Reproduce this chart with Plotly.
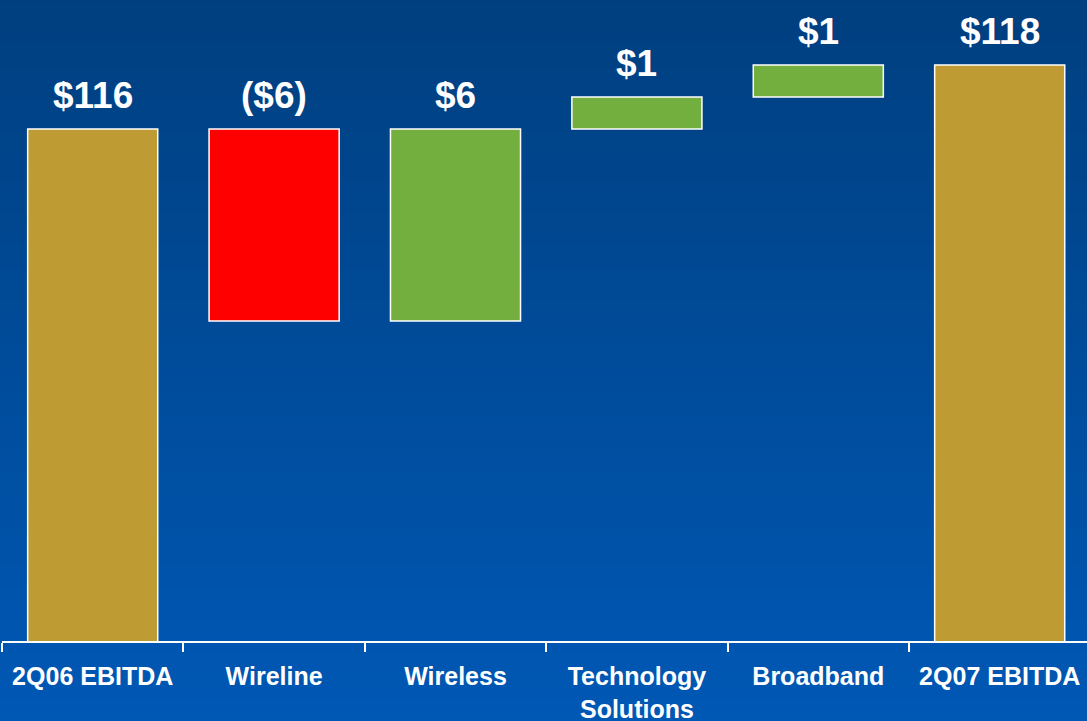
import plotly.graph_objects as go

# EBITDA bridge, $ millions
categories = ["2Q06 EBITDA", "Wireline", "Wireless", "Technology<br>Solutions", "Broadband", "2Q07 EBITDA"]
changes = [116, -6, 6, 1, 1, 118]
kinds = ["total", "change", "change", "change", "change", "total"]
value_labels = ["$116", "($6)", "$6", "$1", "$1", "$118"]

GOLD = "#BF9B33"
GREEN = "#72AF3F"
RED = "#FF0000"
LABEL_GAP = 34  # px between bar top and value label centre

# floating bar geometry from the running total
bases, heights, colors, tops = [], [], [], []
running = 0
for kind, v in zip(kinds, changes):
    if kind == "total":
        bases.append(0)
        heights.append(v)
        colors.append(GOLD)
        running = v
        tops.append(v)
    else:
        start = running
        running = running + v
        bases.append(min(start, running))
        heights.append(abs(v))
        colors.append(GREEN if v > 0 else RED)
        tops.append(max(start, running))

fig = go.Figure(go.Bar(
    x=categories, y=heights, base=bases,
    marker=dict(color=colors, line=dict(color="white", width=1.5)),
    width=0.717, hoverinfo="skip",
))

for cat, t, lab in zip(categories, tops, value_labels):
    fig.add_annotation(x=cat, y=t, text=f"<b>{lab}</b>", showarrow=False,
                       yanchor="middle", yshift=LABEL_GAP,
                       font=dict(family="Liberation Sans, Arial", size=37, color="white"))

# vertical blue gradient background built from thin bands
top_rgb = (0, 63, 127)
bot_rgb = (0, 88, 181)
n = 90
y_lo, y_hi = -0.13, 1.01
for k in range(n):
    f = k / (n - 1)
    c = tuple(round(top_rgb[j] + (bot_rgb[j] - top_rgb[j]) * f) for j in range(3))
    y1 = y_hi - (y_hi - y_lo) * k / n
    y0 = y_hi - (y_hi - y_lo) * (k + 1) / n
    fig.add_shape(type="rect", xref="paper", yref="paper", x0=-0.01, x1=1.01,
                  y0=y0 - 0.001, y1=y1 + 0.001, layer="below",
                  line=dict(width=0), fillcolor=f"rgb{c}")

fig.update_layout(
    width=1087, height=721,
    margin=dict(l=2, r=0, t=1, b=80, autoexpand=False),
    paper_bgcolor="rgb(0,75,154)", plot_bgcolor="rgba(0,0,0,0)",
    showlegend=False,
    xaxis=dict(
        type="category", automargin=False,
        tickmode="array", tickvals=categories, ticktext=[f"<b>{c}</b>" for c in categories],
        range=[-0.5, -0.5 + 1085 / 181.4],
        showgrid=False, zeroline=False,
        showline=True, linecolor="white", linewidth=2,
        ticks="outside", tickson="boundaries", ticklen=9, tickwidth=2, tickcolor="white",
        tickfont=dict(family="Liberation Sans, Arial", size=25, color="white"),
        ticklabelstandoff=12,
    ),
    yaxis=dict(range=[100, 120], visible=False, showgrid=False, zeroline=False),
)

fig.write_html("out.html")
